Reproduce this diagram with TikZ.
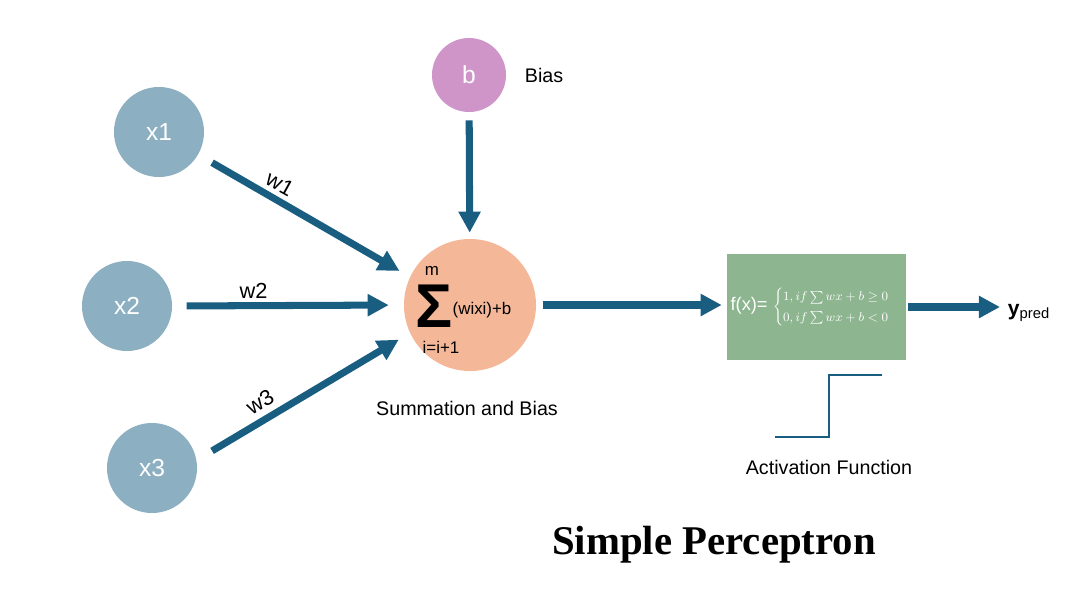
\documentclass[tikz,border=0pt]{standalone}
\usepackage{amsmath}
\usepackage{amssymb}
\usepackage{fontspec}
\setmainfont{Liberation Sans}
\newfontfamily\titlefont{Liberation Serif}
\usepackage{tikz}
\usetikzlibrary{arrows.meta,positioning}
\definecolor{inputblue}{HTML}{8CAFC2}
\definecolor{linkblue}{HTML}{195E80}
\definecolor{biaspink}{HTML}{CF95C9}
\definecolor{sumorange}{HTML}{F4B798}
\definecolor{actgreen}{HTML}{8DB58F}

\begin{document}
\begin{tikzpicture}[x = 0.025cm, y = -0.025cm,
	neuron/.style = {circle, fill = inputblue, minimum size = 2.25cm, inner sep = 0pt, text = white, font = \fontsize{17.5}{20}\selectfont},
	link/.style = {line width = 5pt, draw = linkblue, -{Triangle[length = 15pt, width = 15pt]}},
	wtext/.style = {font = \fontsize{15.5}{18}\selectfont, inner sep = 1pt},
	sumtext/.style = {font = \fontsize{12}{14}\selectfont, inner sep = 0pt},
	note/.style = {font = \fontsize{14}{16}\selectfont}]
	\useasboundingbox (0,0) rectangle (1091,612);
	\node[neuron] (x1) at (159,132) { x1 };
	\node[neuron] (x2) at (127,306) { x2 };
	\node[neuron] (x3) at (152,468) { x3 };
	\node[neuron, fill = biaspink, minimum size = 1.85cm] (b) at (469,75) { b };
	\node[note, right = 0.34cm of b] (bias) { Bias };
	\node[circle, fill = sumorange, minimum size = 3.3cm, inner sep = 0pt] (sum) at (470,305) {};
	\node[inner sep = 0pt, font = \fontsize{44}{44}\selectfont\bfseries] (sigma) at (434,306) { Σ };
	\node[sumtext] (upper) at (432,271) { m };
	\node[sumtext] (term) at (482,310) { (wixi)+b };
	\node[sumtext] (lower) at (441,347) { i=i+1 };
	\node[note] (sumlabel) at (467,408) { Summation and Bias };
	\node[rectangle, fill = actgreen, minimum width = 4.475cm, minimum height = 2.65cm, inner sep = 0pt, text = white, font = \fontsize{13}{15}\selectfont] (act) at (816.5,307) { f(x)= {\fontsize{9}{12}\selectfont $ \begin{cases} 1, if \sum wx + b \geq 0 \\ 0, if \sum wx + b < 0 \end{cases} $} };
	\node[anchor = west, font = \fontsize{15}{18}\selectfont] (ypred) at (1003,313) { \textbf{y}\textsubscript{pred} };
	\draw[link, shorten <= 0.4cm, shorten >= 0.3cm] (x1.-30) -- (sum.155);
	\draw[link, shorten <= 0.36cm, shorten >= 0.375cm] (x2.east) -- (sum.west);
	\draw[link, shorten <= 0.45cm, shorten >= 0.325cm] (x3.10) -- (sum.205);
	\draw[link, shorten <= 0.2cm, shorten >= 0.15cm] (b) -- (sum);
	\draw[link, shorten <= 0.175cm, shorten >= 0.125cm] (sum.east) -- (sum.east -| act.west);
	\draw[link, shorten <= 0.05cm, shorten >= 0.075cm] (act.east) -- (act.east -| ypred.west);
	\node[wtext, rotate = -29] (w1) at (280,184) { w1 };
	\node[wtext] (w2) at (253.5,291) { w2 };
	\node[wtext, rotate = 31] (w3) at (260,402) { w3 };
	\draw[line width = 1.5pt, draw = linkblue] (775,437) -- (829,437) -- (829,375) -- (882,375);
	\node[note] (actlabel) at (829,467) { Activation Function };
	\node[font = \titlefont\bfseries\fontsize{29}{34}\selectfont] (title) at (714,545) { Simple Perceptron };
\end{tikzpicture}
\end{document}
